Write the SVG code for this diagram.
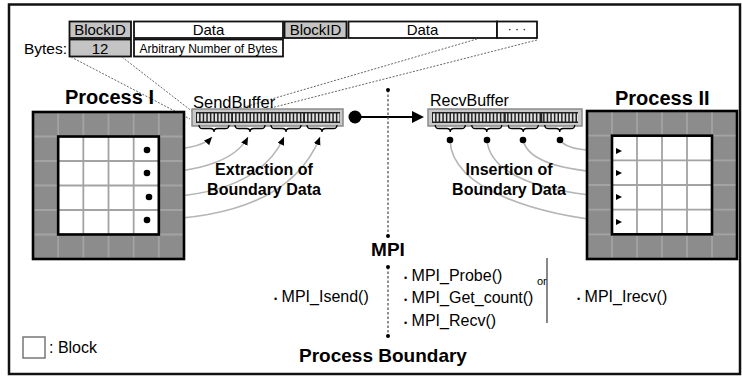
<svg xmlns="http://www.w3.org/2000/svg" width="742" height="378" viewBox="0 0 742 378">
<defs>
<style>
text{font-family:"Liberation Sans",Arial,sans-serif;fill:#000}
.b{font-weight:bold}
.hdr{stroke:#111;stroke-width:1.8}
.g{fill:#c4c4c4}
.w{fill:#fff}
.dot{stroke:#666;stroke-width:1;stroke-dasharray:2 1.5;fill:none}
.grid{stroke:#a3a3a3;stroke-width:1.8;fill:none}
.thick{fill:none;stroke:#000;stroke-width:2.6}
.curve{fill:none;stroke:#b5b5b5;stroke-width:1.6}
.brace{fill:none;stroke:#000;stroke-width:1.3}
.vdot{stroke:#555;stroke-width:1.3;stroke-dasharray:2.5 2}
.fn{font-size:16px}
</style>
<marker id="ah" markerUnits="userSpaceOnUse" markerWidth="9" markerHeight="8" refX="8" refY="3.5" orient="auto">
<path d="M0,0 L8,3.5 L0,7 z" fill="#000"/>
</marker>
</defs>
<rect x="0" y="0" width="742" height="378" fill="#fff"/>
<rect x="9" y="4.5" width="731" height="369.5" fill="none" stroke="#111" stroke-width="2.5"/>

<g id="header">
<rect class="hdr g" x="69.5" y="21.5" width="61.5" height="16.5"/>
<rect class="hdr w" x="134" y="21.5" width="149" height="16.5"/>
<rect class="hdr g" x="284.5" y="21.5" width="62" height="16.5"/>
<rect class="hdr w" x="348.5" y="21.5" width="148.5" height="16.5"/>
<rect class="hdr w" x="497" y="21.5" width="40" height="16.5"/>
<rect class="hdr g" x="69.5" y="39.5" width="61.5" height="17"/>
<rect class="hdr w" x="134" y="39.5" width="149" height="17"/>
<text x="100" y="35" font-size="15" text-anchor="middle">BlockID</text>
<text x="208.5" y="35" font-size="15" text-anchor="middle">Data</text>
<text x="315.5" y="35" font-size="15" text-anchor="middle">BlockID</text>
<text x="422.5" y="35" font-size="15" text-anchor="middle">Data</text>
<text x="517" y="33" font-size="12" text-anchor="middle">· · ·</text>
<text x="67" y="53.5" font-size="15.5" text-anchor="end">Bytes:</text>
<text x="100" y="54" font-size="15" text-anchor="middle">12</text>
<text x="208.5" y="52.5" font-size="12" text-anchor="middle">Arbitrary Number of Bytes</text>
</g>

<g id="connectors">
<path class="dot" d="M71,57 L190,119"/>
<path class="dot" d="M122,57 L193,112"/>
<path class="dot" d="M477,39 L234,110"/>
<path class="dot" d="M537,40 L263,110"/>
<path class="curve" marker-end="url(#ah)" d="M150,150 C182,150 203,147 212,137"/>
<path class="curve" marker-end="url(#ah)" d="M150,173 C200,172 236,160 248,137"/>
<path class="curve" marker-end="url(#ah)" d="M152,197 C218,197 266,178 284,137"/>
<path class="curve" marker-end="url(#ah)" d="M150,220 C245,218 300,188 320,137"/>
<path class="curve" d="M560,140 C566,150 590,151 615,151"/>
<path class="curve" d="M523,140 C528,162 565,171 615,173"/>
<path class="curve" d="M487,140 C490,176 545,193 615,197"/>
<path class="curve" d="M450,140 C452,192 545,216 615,222"/>
<line x1="355" y1="117" x2="414" y2="117" stroke="#000" stroke-width="2.2"/>
<circle cx="355" cy="117" r="6.5" fill="#000"/>
<polygon points="412,111 424,117 412,123" fill="#000"/>
<line class="vdot" x1="388" y1="90" x2="388" y2="236"/>
<circle cx="388" cy="90" r="2" fill="#000"/>
<circle cx="388" cy="236" r="2" fill="#000"/>
<line class="vdot" x1="388" y1="267" x2="388" y2="336"/>
<circle cx="388" cy="267" r="2" fill="#000"/>
<circle cx="388" cy="336" r="2" fill="#000"/>
<line x1="547" y1="258" x2="547" y2="323" stroke="#555" stroke-width="1.4"/>
</g>

<g id="process1">
<text class="b" x="65" y="104" font-size="20">Process I</text>
<rect x="33" y="112" width="151" height="147" fill="#8c8c8c"/>
<rect x="58.17" y="136.5" width="100.66" height="98" fill="#fff"/>
<path class="grid" d="M58.17,112V259M83.33,112V259M108.5,112V259M133.67,112V259M158.83,112V259M33,136.5H184M33,161H184M33,185.5H184M33,210H184M33,234.5H184"/>
<rect class="thick" x="58.17" y="136.5" width="100.66" height="98"/>
<rect class="thick" x="33" y="112" width="151" height="147"/>
<circle cx="147" cy="150" r="3.3"/>
<circle cx="147" cy="173" r="3.3"/>
<circle cx="149" cy="197" r="3.3"/>
<circle cx="147" cy="220" r="3.3"/>
<text class="b" x="264" y="175" font-size="16" text-anchor="middle">Extraction of</text>
<text class="b" x="264" y="195" font-size="16" text-anchor="middle">Boundary Data</text>
</g>

<g id="sendbuffer">
<text x="193" y="108" font-size="16.5">SendBuffer</text>
<rect x="192" y="109" width="151" height="17" fill="#c8c8c8" stroke="#8a8a8a" stroke-width="1.5"/>
<rect x="196" y="112" width="144" height="11" fill="#222"/>
<line x1="197" y1="117.5" x2="340" y2="117.5" stroke="#e0e0e0" stroke-width="8" stroke-dasharray="2.1 1.5"/>
<path d="M232,112V123M268,112V123M304,112V123" stroke="#222" stroke-width="1.6"/>
<path class="brace" d="M199,125q0,3.5 3.5,3.5h8q3.5,0 3.5,3.5q0,-3.5 3.5,-3.5h8q3.5,0 3.5,-3.5M235,125q0,3.5 3.5,3.5h8q3.5,0 3.5,3.5q0,-3.5 3.5,-3.5h8q3.5,0 3.5,-3.5M271,125q0,3.5 3.5,3.5h8q3.5,0 3.5,3.5q0,-3.5 3.5,-3.5h8q3.5,0 3.5,-3.5M307,125q0,3.5 3.5,3.5h8q3.5,0 3.5,3.5q0,-3.5 3.5,-3.5h8q3.5,0 3.5,-3.5"/>
</g>

<g id="recvbuffer">
<text x="430" y="106" font-size="16">RecvBuffer</text>
<rect x="428" y="109" width="154" height="17" fill="#c8c8c8" stroke="#8a8a8a" stroke-width="1.5"/>
<rect x="432" y="112" width="146" height="11" fill="#222"/>
<line x1="433" y1="117.5" x2="578" y2="117.5" stroke="#e0e0e0" stroke-width="8" stroke-dasharray="2.1 1.5"/>
<path d="M468.5,112V123M505,112V123M541.5,112V123" stroke="#222" stroke-width="1.6"/>
<path class="brace" d="M435.25,125q0,3.5 3.5,3.5h8q3.5,0 3.5,3.5q0,-3.5 3.5,-3.5h8q3.5,0 3.5,-3.5M471.75,125q0,3.5 3.5,3.5h8q3.5,0 3.5,3.5q0,-3.5 3.5,-3.5h8q3.5,0 3.5,-3.5M508.25,125q0,3.5 3.5,3.5h8q3.5,0 3.5,3.5q0,-3.5 3.5,-3.5h8q3.5,0 3.5,-3.5M544.75,125q0,3.5 3.5,3.5h8q3.5,0 3.5,3.5q0,-3.5 3.5,-3.5h8q3.5,0 3.5,-3.5"/>
<circle cx="450" cy="140" r="3.3"/>
<circle cx="487" cy="140" r="3.3"/>
<circle cx="523" cy="140" r="3.3"/>
<circle cx="560" cy="140" r="3.3"/>
<text class="b" x="509" y="175" font-size="16" text-anchor="middle">Insertion of</text>
<text class="b" x="509" y="195" font-size="16" text-anchor="middle">Boundary Data</text>
</g>

<g id="process2">
<text class="b" x="615" y="105" font-size="20">Process II</text>
<rect x="587" y="111" width="150" height="148" fill="#8c8c8c"/>
<rect x="612" y="135.67" width="100" height="98.66" fill="#fff"/>
<path class="grid" d="M612,111V259M637,111V259M662,111V259M687,111V259M712,111V259M587,135.67H737M587,160.33H737M587,185H737M587,209.67H737M587,234.33H737"/>
<rect class="thick" x="612" y="135.67" width="100" height="98.66"/>
<rect class="thick" x="587" y="111" width="150" height="148"/>
<polygon points="616,148 622,151 616,154"/>
<polygon points="616,170 622,173 616,176"/>
<polygon points="616,194 622,197 616,200"/>
<polygon points="616,219 622,222 616,225"/>
</g>

<g id="mpi">
<text class="b" x="388" y="256" font-size="19" text-anchor="middle">MPI</text>
<text class="fn" x="274" y="302"><tspan font-size="9">•</tspan> MPI_Isend()</text>
<text class="fn" x="404" y="281"><tspan font-size="9">•</tspan> MPI_Probe()</text>
<text class="fn" x="404" y="303"><tspan font-size="9">•</tspan> MPI_Get_count()</text>
<text class="fn" x="404" y="326"><tspan font-size="9">•</tspan> MPI_Recv()</text>
<text x="537" y="285" font-size="11">or</text>
<text class="fn" x="577" y="302"><tspan font-size="9">•</tspan> MPI_Irecv()</text>
<text class="b" x="383" y="362" font-size="19" text-anchor="middle">Process Boundary</text>
</g>

<g id="legend">
<rect x="23" y="337" width="22" height="21" fill="#fff" stroke="#777" stroke-width="1.5"/>
<text x="49" y="353" font-size="16">:  Block</text>
</g>
</svg>
